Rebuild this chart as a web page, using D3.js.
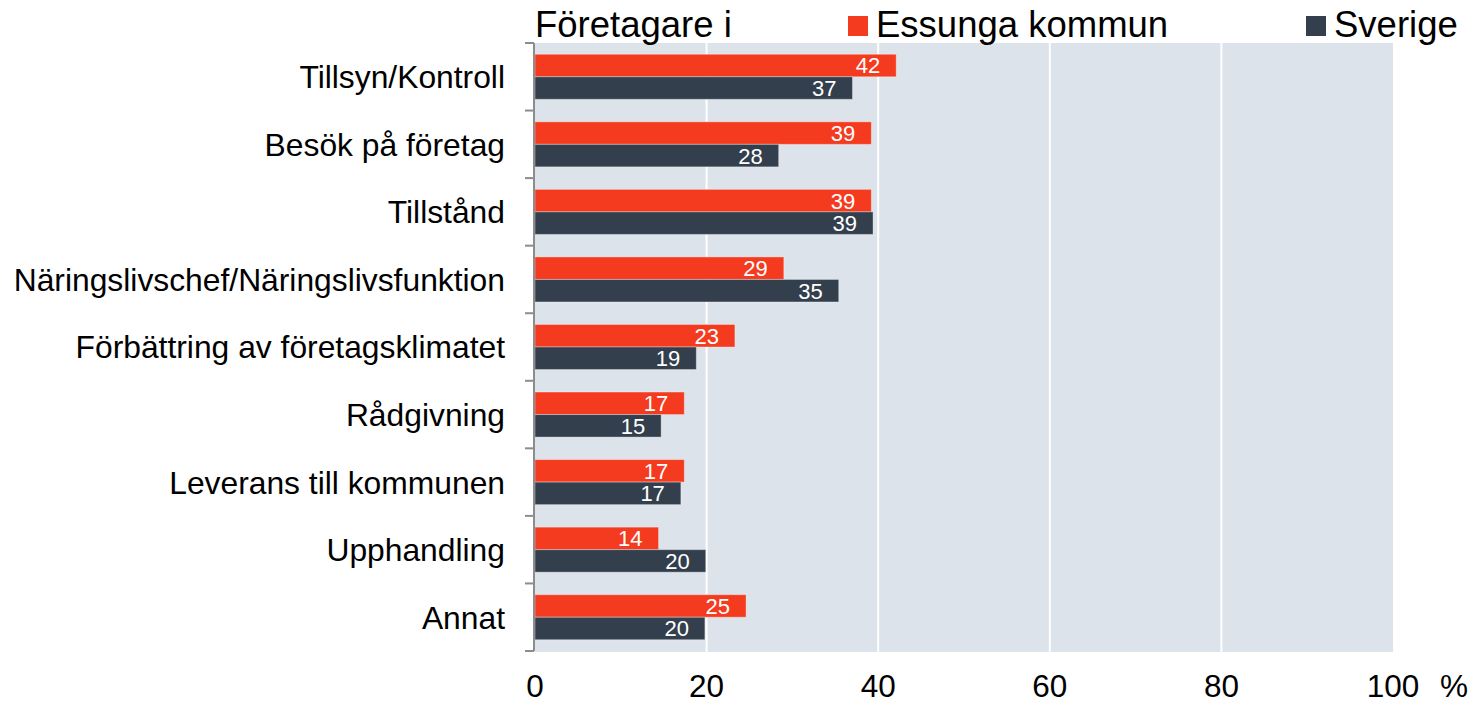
<!DOCTYPE html>
<html>
<head>
<meta charset="utf-8">
<script src="https://cdn.jsdelivr.net/npm/d3@7"></script>
<style>
  body { margin: 0; background: white; }
  text { font-family: "Liberation Sans", Arial, sans-serif; }
</style>
</head>
<body>
<svg id="chart" width="1470" height="703"></svg>
<script>
// data
var categories = ["Tillsyn/Kontroll", "Besök på företag", "Tillstånd",
  "Näringslivschef/Näringslivsfunktion", "Förbättring av företagsklimatet",
  "Rådgivning", "Leverans till kommunen", "Upphandling", "Annat"];
var essunga = [42.1, 39.2, 39.2, 29.0, 23.3, 17.4, 17.4, 14.4, 24.6];
var sverige = [37.0, 28.4, 39.4, 35.4, 18.8, 14.7, 17.0, 19.9, 19.8];
var seriesNames = ["Essunga kommun", "Sverige"];
var seriesColors = ["#f43b1f", "#333f4d"];
var xTicks = [0, 20, 40, 60, 80, 100];

var svg = d3.select("#chart");
var plotLeft = 535, plotRight = 1393, plotTop = 43, plotBottom = 651;

var x = d3.scaleLinear().domain([0, 100]).range([plotLeft, plotRight]);
var y = d3.scaleBand().domain(categories).range([plotTop, plotBottom]).paddingInner(0).paddingOuter(0);
var inner = d3.scaleBand().domain([0, 1]).range([0, y.bandwidth()]).paddingOuter(0.5).paddingInner(0);

// plot background
svg.append("rect")
  .attr("x", plotLeft).attr("y", plotTop)
  .attr("width", plotRight - plotLeft).attr("height", plotBottom - plotTop + 1)
  .attr("fill", "#dde3ea");

// gridlines
svg.selectAll(".grid").data(xTicks.slice(1, -1)).enter().append("line")
  .attr("x1", d => x(d)).attr("x2", d => x(d))
  .attr("y1", plotTop).attr("y2", plotBottom + 1)
  .attr("stroke", "white").attr("stroke-width", 2);

// bars
var rows = categories.map((c, i) => ({ cat: c, vals: [essunga[i], sverige[i]] }));
var g = svg.selectAll(".row").data(rows).enter().append("g")
  .attr("transform", d => "translate(0," + y(d.cat) + ")");

g.selectAll("rect").data(d => d.vals).enter().append("rect")
  .attr("x", x(0))
  .attr("y", (d, i) => inner(i))
  .attr("width", d => x(d) - x(0))
  .attr("height", inner.bandwidth())
  .attr("fill", (d, i) => seriesColors[i])
  .attr("stroke", "rgba(255,255,255,0.35)")
  .attr("stroke-width", 1);

g.selectAll(".val").data(d => d.vals).enter().append("text")
  .attr("x", d => x(d) - 16)
  .attr("y", (d, i) => inner(i) + inner.bandwidth() / 2)
  .attr("dy", "0.36em")
  .attr("text-anchor", "end")
  .attr("fill", "white")
  .style("font-size", "22px")
  .text(d => Math.round(d));

// y axis
var yAxis = svg.append("g").attr("transform", "translate(" + (plotLeft - 1) + ",0)");
yAxis.append("line")
  .attr("x1", 0).attr("x2", 0).attr("y1", plotTop).attr("y2", plotBottom)
  .attr("stroke", "#8c8c8c").attr("stroke-width", 2);
var bounds = categories.map(c => y(c)).concat([plotBottom]);
yAxis.selectAll(".tick").data(bounds).enter().append("line")
  .attr("x1", -9).attr("x2", 0)
  .attr("y1", d => d).attr("y2", d => d)
  .attr("stroke", "#8c8c8c").attr("stroke-width", 2);

svg.selectAll(".cat").data(categories).enter().append("text")
  .attr("x", 505)
  .attr("y", d => y(d) + y.bandwidth() / 2)
  .attr("dy", "0.36em")
  .attr("text-anchor", "end")
  .attr("fill", "black")
  .style("font-size", "31.8px")
  .text(d => d);

// x tick labels
svg.selectAll(".xt").data(xTicks).enter().append("text")
  .attr("x", d => x(d))
  .attr("y", 697)
  .attr("text-anchor", "middle")
  .style("font-size", "31.5px")
  .text(d => d);
svg.append("text")
  .attr("x", 1440).attr("y", 697)
  .style("font-size", "31.5px")
  .text("%");

// title and legend
svg.append("text")
  .attr("x", 535).attr("y", 37)
  .style("font-size", "36.5px")
  .text("Företagare i");

var legendX = [848, 1306];
seriesNames.forEach(function(name, i) {
  svg.append("rect")
    .attr("x", legendX[i]).attr("y", 16)
    .attr("width", 20).attr("height", 20)
    .attr("fill", seriesColors[i]);
  svg.append("text")
    .attr("x", legendX[i] + 28).attr("y", 37)
    .style("font-size", "36.5px")
    .text(name);
});
</script>
</body>
</html>
